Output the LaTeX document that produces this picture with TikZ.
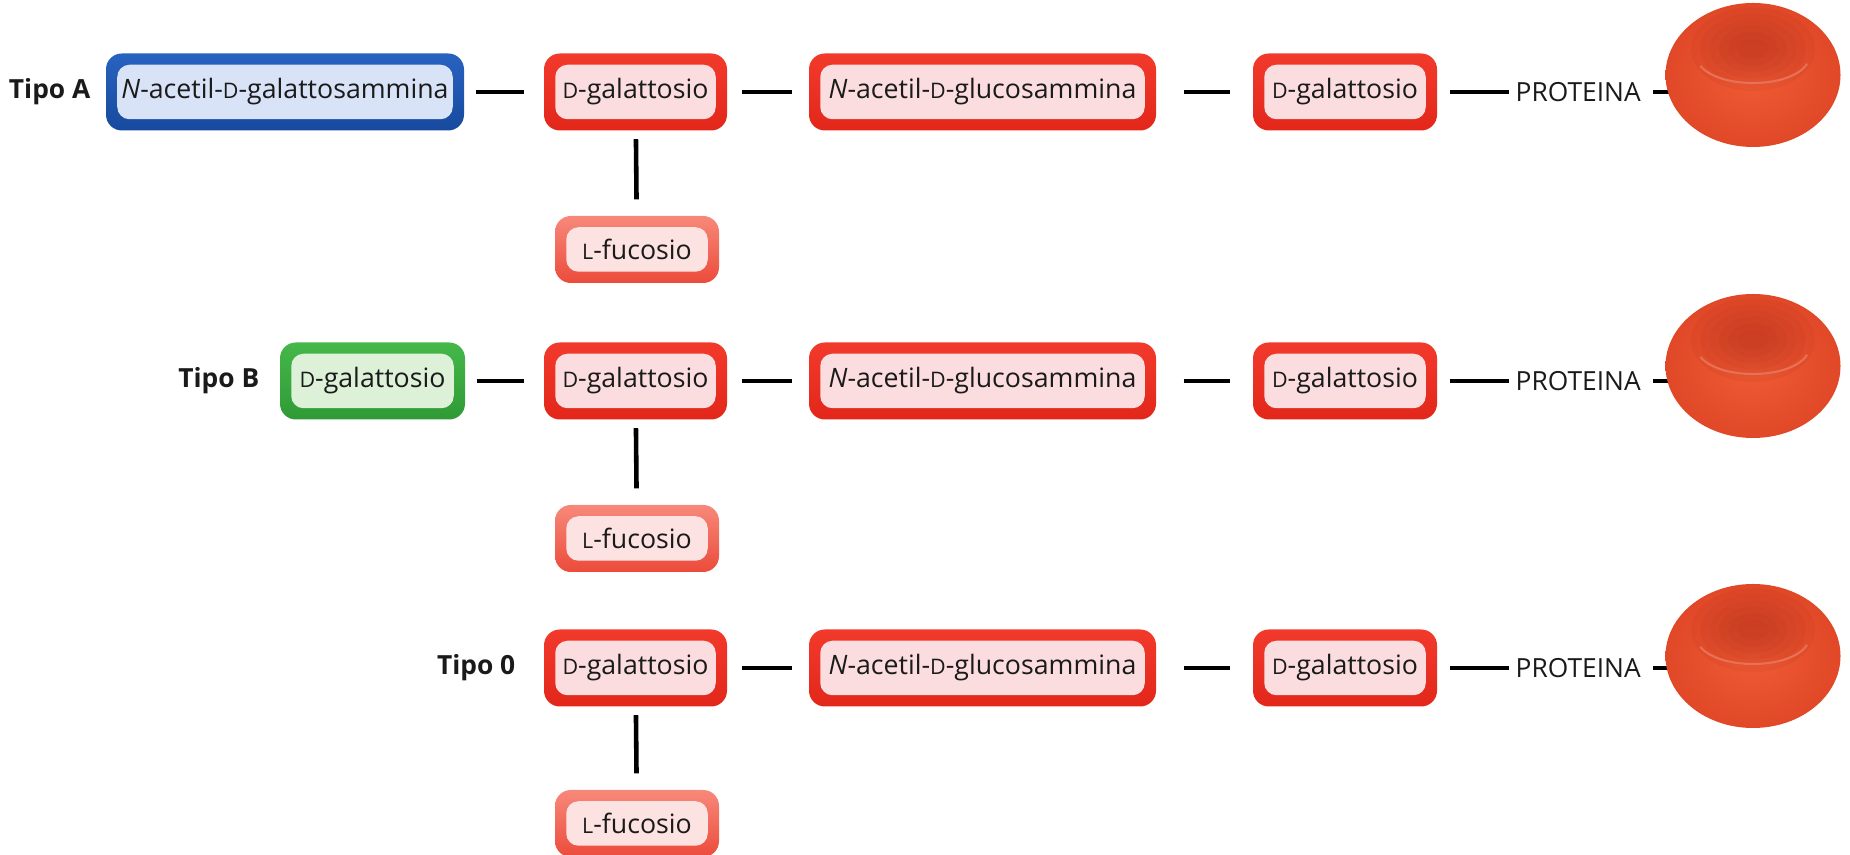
\documentclass[tikz,border=0pt]{standalone}
\usepackage{fontspec}
\setmainfont{Open Sans}
\usepackage{tikz}
\usetikzlibrary{backgrounds,shapes.geometric}
\definecolor{redframe}{HTML}{F23A2C}
\definecolor{redframedark}{HTML}{E2271A}
\definecolor{redinner}{HTML}{FBDDDF}
\definecolor{blueframe}{HTML}{2862C0}
\definecolor{blueframedark}{HTML}{174A9E}
\definecolor{blueinner}{HTML}{D8E3F7}
\definecolor{greenframe}{HTML}{45B84A}
\definecolor{greenframedark}{HTML}{2F9A35}
\definecolor{greeninner}{HTML}{DDF1D9}
\definecolor{fucframe}{HTML}{F7897A}
\definecolor{fucframedark}{HTML}{EC4B3B}
\definecolor{fucinner}{HTML}{FCE2E1}
\definecolor{cellrim}{HTML}{E04827}
\definecolor{cellbody}{HTML}{F05C35}
\definecolor{celldimple}{HTML}{B8321D}
\definecolor{textcolor}{HTML}{1A1A1A}
\newcommand{\minicap}[1]{{\fontsize{6.1pt}{7pt}\selectfont #1}}
\tikzset{
  sugar/.style={
    rounded corners=4.5pt,
    top color=#1frame,
    bottom color=#1framedark,
    minimum height=7.7mm,
    inner sep=0pt,
    text=textcolor,
    font=\fontsize{7.6pt}{9pt}\selectfont,
    path picture={
      \fill[#1inner, rounded corners=3.5pt]
        ([shift={(3.2pt,3.2pt)}]path picture bounding box.south west) rectangle
        ([shift={(-3.2pt,-3.2pt)}]path picture bounding box.north east);
    }
  },
  fucose/.style={
    sugar=fuc,
    minimum width=16.4mm,
    minimum height=6.7mm
  },
  type label/.style={
    anchor=east,
    inner sep=0pt,
    text=textcolor,
    font=\bfseries\fontsize{7.5pt}{9pt}\selectfont
  },
  protein/.style={
    inner sep=0pt,
    text=textcolor,
    font=\fontsize{7.5pt}{9pt}\selectfont
  },
  cell/.style={
    ellipse,
    minimum width=17.5mm,
    minimum height=14.4mm,
    inner color=cellbody,
    outer color=cellrim,
    path picture={
      % soft central dimple, built up from faint layers
      \foreach \s in {1.0,0.85,0.7,0.55,0.4,0.25}{
        \fill[celldimple, opacity=0.13]
          ([shift={(0,2.6mm)}]path picture bounding box.center) ellipse ({6.2mm*\s} and {4.2mm*\s});
      }
      \draw[white, opacity=0.2, line width=0.6pt]
        ([shift={(0,1.8mm)}]path picture bounding box.center) ++(200:5.6mm and 2.6mm)
        arc[start angle=200, end angle=345, x radius=5.6mm, y radius=2.6mm];
    }
  },
  bond/.style={
    draw=black,
    line width=1pt
  },
  branch/.style={
    draw=black,
    line width=1.3pt
  }
}

\begin{document}
\begin{tikzpicture}[x=1cm,y=1cm]
  \useasboundingbox (0,0) rectangle (18.5,8.55);

  % tipo A
  \node[type label] (T-A) at (0.91,7.63) {Tipo A};
  \node[sugar=blue, minimum width=35.8mm] (X-A) at (2.85,7.63) {\textit{N}-acetil-\minicap{D}-galattosammina};
  \node[sugar=red, minimum width=18.3mm] (G1-A) at (6.355,7.63) {\minicap{D}-galattosio};
  \node[sugar=red, minimum width=34.7mm] (N-A) at (9.825,7.63) {\textit{N}-acetil-\minicap{D}-glucosammina};
  \node[sugar=red, minimum width=18.4mm] (G2-A) at (13.45,7.63) {\minicap{D}-galattosio};
  \node[protein, anchor=west] (P-A) at (15.15,7.63) {PROTEINA};
  \node[cell] (C-A) at (17.53,7.80) {};
  \node[fucose] (F-A) at (6.37,6.055) {\minicap{L}-fucosio};

  % tipo B
  \node[type label] (T-B) at (2.60,4.74) {Tipo B};
  \node[sugar=green, minimum width=18.5mm] (X-B) at (3.725,4.74) {\minicap{D}-galattosio};
  \node[sugar=red, minimum width=18.3mm] (G1-B) at (6.355,4.74) {\minicap{D}-galattosio};
  \node[sugar=red, minimum width=34.7mm] (N-B) at (9.825,4.74) {\textit{N}-acetil-\minicap{D}-glucosammina};
  \node[sugar=red, minimum width=18.4mm] (G2-B) at (13.45,4.74) {\minicap{D}-galattosio};
  \node[protein, anchor=west] (P-B) at (15.15,4.74) {PROTEINA};
  \node[cell] (C-B) at (17.53,4.89) {};
  \node[fucose] (F-B) at (6.37,3.165) {\minicap{L}-fucosio};

  % tipo 0
  \node[type label] (T-O) at (5.16,1.87) {Tipo 0};
  \node[sugar=red, minimum width=18.3mm] (G1-O) at (6.355,1.87) {\minicap{D}-galattosio};
  \node[sugar=red, minimum width=34.7mm] (N-O) at (9.825,1.87) {\textit{N}-acetil-\minicap{D}-glucosammina};
  \node[sugar=red, minimum width=18.4mm] (G2-O) at (13.45,1.87) {\minicap{D}-galattosio};
  \node[protein, anchor=west] (P-O) at (15.15,1.87) {PROTEINA};
  \node[cell] (C-O) at (17.53,1.99) {};
  \node[fucose] (F-O) at (6.37,0.315) {\minicap{L}-fucosio};

  \begin{scope}[on background layer]
    \foreach \r in {A,B}{
      \draw[bond, shorten <=1.1mm, shorten >=1.9mm] (X-\r) -- (G1-\r);
    }
    \foreach \r in {A,B,O}{
      \draw[bond, shorten <=1.4mm, shorten >=1.6mm] (G1-\r) -- (N-\r);
      \draw[bond, shorten <=2.7mm, shorten >=2.2mm] (N-\r) -- (G2-\r);
      \draw[bond, shorten <=1.2mm, shorten >=0.6mm] (G2-\r) -- (P-\r);
      \draw[bond, shorten <=1.2mm, shorten >=-0.8mm] (P-\r.east) -- (P-\r.east -| C-\r.west);
      \draw[branch, shorten <=0.8mm, shorten >=1.6mm] (G1-\r) -- (F-\r);
    }
  \end{scope}
\end{tikzpicture}
\end{document}
